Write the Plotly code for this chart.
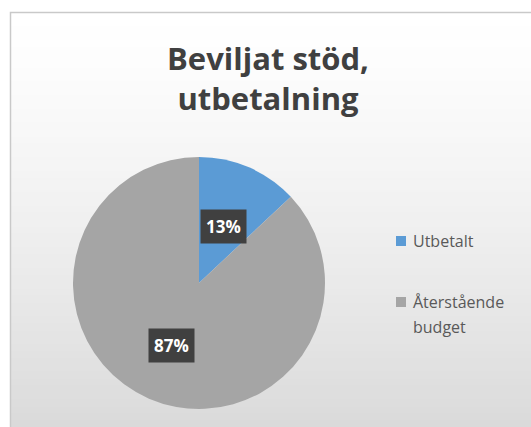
import math
import plotly.graph_objects as go

# Data
labels = ["Utbetalt", "Återstående<br>budget"]
shares = [13, 87]
colors = ["#5B9BD5", "#A5A5A5"]
title_lines = ["Beviljat stöd,", "utbetalning"]

W, H = 531, 427
FONT = "Open Sans"

# Pie geometry in pixels
cx, cy, r = 199, 283, 126

fig = go.Figure()
fig.add_trace(go.Pie(
    labels=labels,
    values=shares,
    marker=dict(colors=colors, line=dict(color="rgba(0,0,0,0)", width=0)),
    sort=False,
    direction="clockwise",
    rotation=0,
    textinfo="none",
    hoverinfo="label+percent",
    showlegend=False,
    domain=dict(x=[(cx - r) / W, (cx + r) / W], y=[1 - (cy + r) / H, 1 - (cy - r) / H]),
))

shapes = []
# Chart area background: vertical gradient from white to light gray
x0, y0 = 10, 12
n = 60
top_c, bot_c = 255, 218
for i in range(n):
    ya = y0 + (H - y0) * i / n
    yb = y0 + (H - y0) * (i + 1) / n + 1
    t = (i + 0.5) / n
    g = round(top_c + (bot_c - top_c) * t ** 1.3)
    shapes.append(dict(type="rect", xref="paper", yref="paper", layer="below",
                       x0=x0 / W, x1=1.01, y0=1 - yb / H, y1=1 - ya / H,
                       fillcolor=f"rgb({g},{g},{g})", line=dict(width=0)))
# Outer border
shapes.append(dict(type="rect", xref="paper", yref="paper", layer="below",
                   x0=(x0 + 0.5) / W, x1=1.05, y0=-0.05, y1=1 - (y0 + 0.5) / H,
                   fillcolor="rgba(0,0,0,0)", line=dict(color="#C9C9C9", width=1.5)))

annotations = []

# Percentage labels placed at the middle angle of each slice
total = sum(shares)
acc = 0
for v, frac_r in zip(shares, [0.49, 0.54]):
    mid = (acc + v / 2) / total * 2 * math.pi
    acc += v
    px = cx + frac_r * r * math.sin(mid)
    py = cy - frac_r * r * math.cos(mid)
    annotations.append(dict(
        x=px / W, y=1 - py / H, xref="paper", yref="paper",
        text=f"<b>{round(v / total * 100)}%</b>", showarrow=False,
        font=dict(family=FONT, size=17, color="white"),
        bgcolor="#404040", borderpad=5, xanchor="center", yanchor="middle",
    ))

# Two-line title
annotations.append(dict(
    x=268 / W, y=1 - 78 / H, xref="paper", yref="paper",
    text="<br>".join(f"<b>{s}</b>" for s in title_lines), showarrow=False,
    font=dict(family=FONT, size=31, color="#404040"),
    xanchor="center", yanchor="middle", align="center",
))

# Legend: colour squares with wrapped labels
leg_x, sq = 396, 10
line_h = 25
for (lab, col, ly) in zip(labels, colors, [241, 302]):
    shapes.append(dict(type="rect", xref="paper", yref="paper",
                       x0=leg_x / W, x1=(leg_x + sq) / W,
                       y0=1 - (ly + sq / 2) / H, y1=1 - (ly - sq / 2) / H,
                       fillcolor=col, line=dict(width=0)))
    for k, part in enumerate(lab.split("<br>")):
        annotations.append(dict(
            x=(leg_x + sq + 5) / W, y=1 - (ly + k * line_h) / H,
            xref="paper", yref="paper", text=part, showarrow=False,
            font=dict(family=FONT, size=16, color="#595959"),
            xanchor="left", yanchor="middle",
        ))

fig.update_layout(
    width=W, height=H,
    margin=dict(l=0, r=0, t=0, b=0),
    paper_bgcolor="white",
    plot_bgcolor="white",
    shapes=shapes,
    annotations=annotations,
    showlegend=False,
)

fig.write_html("out.html")
